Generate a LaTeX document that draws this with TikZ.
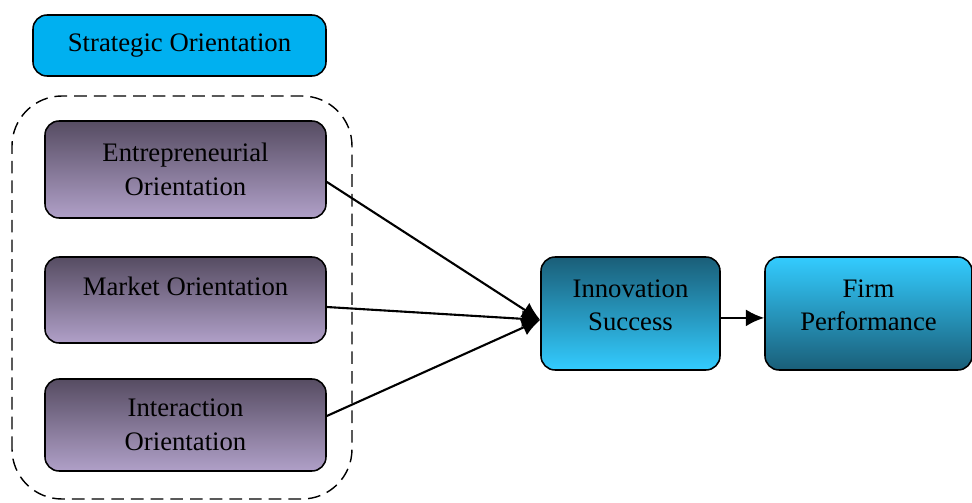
\documentclass[tikz,border=0pt]{standalone}
\usepackage{fontspec}
\setmainfont{Liberation Serif}
\usetikzlibrary{arrows.meta}

\definecolor{socyan}{HTML}{00B0F0}
\definecolor{purpdark}{HTML}{564C62}
\definecolor{purplight}{HTML}{B0A0C8}
\definecolor{tealdark}{HTML}{1A5E78}
\definecolor{teallight}{HTML}{33CCFF}

\begin{document}
\begin{tikzpicture}
        \tikzstyle{box}=[draw=black,line width=1.1pt,rounded corners=10pt,align=center,font=\fontsize{19}{24}\selectfont,inner sep=2pt]
        \tikzstyle{orient}=[box,top color=purpdark,bottom color=purplight,minimum width=7.025cm]
        \tikzstyle{link}=[line width=1.5pt,-{Latex[length=13pt,width=12pt]}]
        \useasboundingbox (0,0) rectangle (24.3,12.55);
        \node[box,fill=socyan,minimum width=7.325cm,minimum height=1.525cm] (so) at (4.4875,11.4125) {Strategic Orientation};
        \draw[dashed,line width=1pt,dash pattern=on 9pt off 5pt,rounded corners=1.25cm] (0.3,0.075) rectangle (8.8,10.15);
        \node[orient,minimum height=2.425cm] (eo) at (4.6375,8.3125) {Entrepreneurial\\Orientation};
        \node[orient,minimum height=2.15cm,text depth=20pt] (mo) at (4.6375,5.05) {Market Orientation};
        \node[orient,minimum height=2.3cm] (io) at (4.6375,1.925) {Interaction\\Orientation};
        \node[box,top color=tealdark,bottom color=teallight,minimum width=4.475cm,minimum height=2.825cm,text depth=12pt] (is) at (15.7625,4.7125) {Innovation\\Success};
        \node[box,top color=teallight,bottom color=tealdark,minimum width=5.175cm,minimum height=2.825cm,text depth=12pt] (fp) at (21.7125,4.7125) {Firm\\Performance};
        % arrows into innovation success
        \draw[link] ([yshift=-0.31cm]eo.east) -- ([yshift=-0.16cm]is.west);
        \draw[link] ([yshift=-0.175cm]mo.east) -- ([yshift=-0.16cm]is.west);
        \draw[link] ([yshift=0.225cm]io.east) -- ([yshift=-0.16cm]is.west);
        \draw[link] ([yshift=-0.11cm]is.east) -- ([yshift=-0.11cm]fp.west);
\end{tikzpicture}
\end{document}
